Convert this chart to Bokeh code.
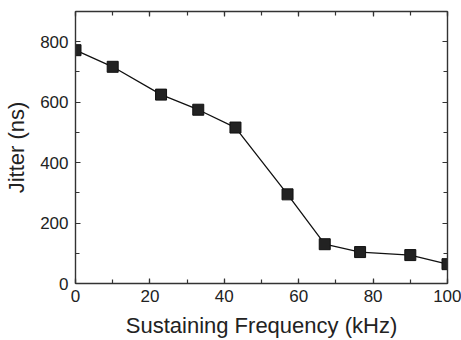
from bokeh.plotting import figure
from bokeh.models import Range1d, LinearAxis, SingleIntervalTicker, CustomJSTickFormatter
from bokeh.embed import file_html
from bokeh.resources import INLINE

freq_khz = [0, 10, 23, 33, 43, 57, 67, 76.5, 90, 100]
jitter_ns = [772, 717, 625, 575, 516, 295, 130, 104, 94, 64]

FONT = "Liberation Sans"
INK = "#222222"

p = figure(width=461, height=340, output_backend="svg", toolbar_location=None,
           x_range=Range1d(0, 100), y_range=Range1d(0, 900),
           min_border_left=75, min_border_right=14, min_border_top=11, min_border_bottom=57)
p.grid.visible = False
p.outline_line_color = None
p.background_fill_color = "white"
p.border_fill_color = "white"

def style(ax, labels=True):
    ax.axis_line_color = "#333333"
    ax.axis_line_width = 1.4
    ax.major_tick_line_color = "#333333"
    ax.minor_tick_line_color = "#333333"
    ax.major_tick_in = 5
    ax.major_tick_out = 0
    ax.minor_tick_in = 4
    ax.minor_tick_out = 0
    ax.major_tick_line_width = 1.2
    ax.minor_tick_line_width = 1.2
    ax.major_label_text_font = FONT
    ax.major_label_text_font_size = "17px"
    ax.major_label_text_color = INK
    ax.axis_label_text_font = FONT
    ax.axis_label_text_font_size = "22px"
    ax.axis_label_text_font_style = "normal"
    ax.axis_label_text_color = INK
    if not labels:
        ax.major_label_text_font_size = "0px"
        ax.major_label_standoff = 0
        ax.formatter = CustomJSTickFormatter(code="return ''")

xt = SingleIntervalTicker(interval=20, num_minor_ticks=2)
yt = SingleIntervalTicker(interval=200, num_minor_ticks=2)

p.xaxis.ticker = xt
p.yaxis.ticker = yt
p.xaxis.axis_label = "Sustaining Frequency (kHz)"
p.yaxis.axis_label = "Jitter (ns)"
style(p.xaxis[0])
style(p.yaxis[0])
p.xaxis.major_label_standoff = 6
p.yaxis.major_label_standoff = 7
p.xaxis.axis_label_standoff = 8
p.yaxis.axis_label_standoff = 8

top = LinearAxis(ticker=SingleIntervalTicker(interval=20, num_minor_ticks=2))
right = LinearAxis(ticker=SingleIntervalTicker(interval=200, num_minor_ticks=2))
style(top, labels=False)
style(right, labels=False)
p.add_layout(top, "above")
p.add_layout(right, "right")

p.line(freq_khz, jitter_ns, line_color="#111111", line_width=1.3)
p.scatter(freq_khz, jitter_ns, marker="square", size=11, fill_color=INK,
          line_color="#111111", line_width=1)

open("out.html", "w").write(file_html(p, INLINE))
